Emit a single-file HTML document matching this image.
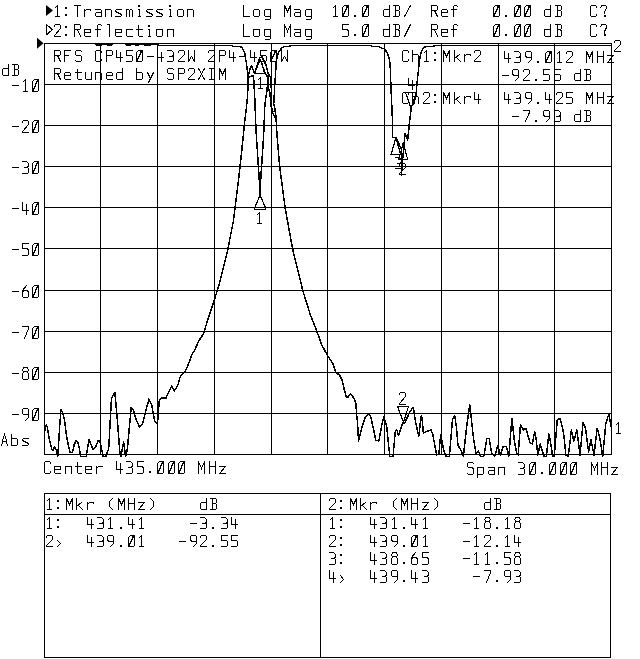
<!DOCTYPE html><html><head><meta charset="utf-8"><style>html,body{margin:0;padding:0;background:#fff;overflow:hidden}svg{display:block}text{font-family:"Liberation Mono";font-size:17.17px;white-space:pre;fill:#000}</style></head><body>
<svg width="640" height="659" viewBox="0 0 640 659">
<rect width="640" height="659" fill="#fff"/>
<g stroke="#000" stroke-width="1" shape-rendering="crispEdges">
<line x1="44.5" y1="43" x2="44.5" y2="455"/>
<line x1="100.5" y1="43" x2="100.5" y2="455"/>
<line x1="157.5" y1="43" x2="157.5" y2="455"/>
<line x1="214.5" y1="43" x2="214.5" y2="455"/>
<line x1="271.5" y1="43" x2="271.5" y2="455"/>
<line x1="327.5" y1="43" x2="327.5" y2="455"/>
<line x1="384.5" y1="43" x2="384.5" y2="455"/>
<line x1="441.5" y1="43" x2="441.5" y2="455"/>
<line x1="498.5" y1="43" x2="498.5" y2="455"/>
<line x1="554.5" y1="43" x2="554.5" y2="455"/>
<line x1="611.5" y1="43" x2="611.5" y2="455"/>
<line x1="44" y1="43.5" x2="612" y2="43.5"/>
<line x1="44" y1="84.5" x2="612" y2="84.5"/>
<line x1="44" y1="125.5" x2="612" y2="125.5"/>
<line x1="44" y1="166.5" x2="612" y2="166.5"/>
<line x1="44" y1="207.5" x2="612" y2="207.5"/>
<line x1="44" y1="248.5" x2="612" y2="248.5"/>
<line x1="44" y1="290.5" x2="612" y2="290.5"/>
<line x1="44" y1="331.5" x2="612" y2="331.5"/>
<line x1="44" y1="372.5" x2="612" y2="372.5"/>
<line x1="44" y1="413.5" x2="612" y2="413.5"/>
<line x1="44" y1="454.5" x2="612" y2="454.5"/>
<rect x="44.5" y="493.5" width="566" height="164" fill="none"/>
<line x1="44" y1="514.5" x2="611" y2="514.5"/>
<line x1="320.5" y1="493" x2="320.5" y2="658"/>
</g>
<g fill="none" stroke="#000" stroke-width="1.5" stroke-linejoin="round" stroke-linecap="round" shape-rendering="crispEdges">
<polyline points="44.6,431.0 46.4,424.6 47.3,427.3 49.1,438.3 51.9,449.2 53.2,450.1 54.6,446.5 56.0,449.2 57.8,456.3 59.6,427.3 61.0,409.6 62.3,411.9 64.2,418.2 66.4,434.6 68.3,445.6 70.1,452.4 72.4,452.4 74.2,444.7 76.0,440.6 77.8,442.0 79.2,447.4 80.6,456.3 86.2,456.3 89.0,439.4 90.9,444.0 92.8,449.7 95.6,446.9 98.4,440.3 100.2,442.2 103.1,456.3 105.9,456.3 108.7,448.8 111.5,398.1 114.9,392.5 117.1,416.9 119.9,452.5 120.9,456.3 123.7,442.2 125.6,456.3 127.4,448.8 131.2,407.5 133.1,409.4 135.9,418.8 139.6,427.2 142.4,424.4 145.2,413.1 149.0,399.1 151.8,405.6 154.6,420.6 157.4,424.4 159.3,400.0 161.2,398.1 165.8,398.3 168.2,393.4 171.8,386.2 174.3,391.0 177.9,385.0 180.3,376.5 185.2,371.6 188.8,363.1 192.5,353.4 194.9,349.8 198.5,341.3 203.4,334.0 208.3,318.2 211.9,307.3 214.3,300.0 219.1,284.7 227.1,252.9 233.4,221.0 238.2,182.8 241.4,154.1 244.6,122.3 246.2,110.0 247.3,99.0 248.2,84.0 248.3,77.5"/>
<line x1="95" y1="44.5" x2="113" y2="44.5" stroke-width="1"/>
<line x1="125" y1="44.5" x2="159" y2="44.5" stroke-width="1"/>
<line x1="96" y1="45.5" x2="102" y2="45.5" stroke-width="1"/>
<line x1="107" y1="45.5" x2="112" y2="45.5" stroke-width="1"/>
<line x1="126" y1="45.5" x2="131" y2="45.5" stroke-width="1"/>
<line x1="135" y1="45.5" x2="139" y2="45.5" stroke-width="1"/>
<line x1="144" y1="45.5" x2="151" y2="45.5" stroke-width="1"/>
<polyline points="159.0,45.5 232.0,45.5 232.5,46.5 240.3,46.5 241.7,47.5 243.1,49.4 244.0,51.7 245.0,54.0 245.4,56.4 245.7,60.0 246.4,62.0 247.2,70.0 248.0,75.3 248.3,77.5"/>
<polyline points="248.2,84.0 248.2,76.0 250.4,67.8 251.5,65.3 253.3,70.4 254.4,73.3 257.0,65.5 259.8,57.6 262.0,56.9 266.0,65.0 268.3,74.0 267.6,83.9 266.8,91.5 265.7,98.3 264.6,108.1 264.2,122.6 263.7,134.0 260.4,185.0 260.1,195.0"/>
<polyline points="248.0,75.3 249.0,77.0 251.0,76.5 253.5,75.5 254.0,84.0 254.8,99.0 256.0,130.0 259.6,185.0 260.1,195.0"/>
<polyline points="261.5,62.5 264.2,71.5 267.4,76.8 268.4,88.0 269.9,93.0 271.4,108.0 272.5,113.0 275.5,118.0"/>
<polyline points="269.0,74.5 270.6,77.5 271.2,84.0 271.7,108.0 273.0,112.0"/>
<polyline points="289.8,46.5 284.7,46.5 283.2,47.0 281.4,48.4 280.0,50.3 279.0,51.7 278.1,53.6 277.2,56.0 276.5,60.0 276.0,65.2 275.6,74.0 274.8,84.0 274.4,93.0 273.7,104.3 274.8,108.1 275.9,116.5 276.3,122.6 276.9,134.0 279.6,166.0 285.0,207.0 292.4,248.0 302.7,290.3 310.3,314.5 316.4,330.0 321.8,345.0 327.3,355.2 332.7,363.4 336.2,373.0 339.6,375.0 342.3,380.5 343.7,387.3 346.4,397.5 348.4,396.8 350.5,393.4 353.9,398.2 355.9,403.0 356.6,414.6 357.3,420.0 358.6,441.0 362.5,425.3 365.6,416.7 368.8,413.6 371.0,417.5 375.8,440.2 378.9,441.0 382.0,423.8 384.0,416.7 386.7,426.9 389.8,456.3 393.0,456.3 395.3,431.6 396.9,430.0 398.4,435.5 401.6,426.0 403.0,422.2 404.7,423.0 410.2,411.2 413.3,407.3 415.6,422.2 418.8,436.2 421.1,416.0 421.9,417.5 423.4,433.0 426.6,431.6 431.2,430.0 432.8,434.7 436.7,455.0 439.0,453.4 440.6,434.7 442.2,442.5 443.8,450.3 446.2,456.3 449.4,456.3 452.5,419.0 454.8,416.0 456.4,426.9 458.0,445.6 460.3,448.8 463.4,456.3 466.6,426.9 469.7,405.0 471.2,417.5 473.6,439.4 476.0,453.4 478.3,451.0 480.6,456.3 483.8,456.3 486.9,438.6 489.2,438.6 491.6,453.4 494.7,456.3 497.8,445.6 500.2,455.0 503.3,446.4 506.4,446.4 508.8,456.3 511.9,418.3 514.2,439.4 516.6,453.4 518.1,455.0 520.5,424.5 523.6,430.0 525.9,428.4 530.0,442.5 532.3,444.0 534.7,431.6 536.2,439.4 537.8,455.0 540.2,444.0 541.7,448.8 544.0,456.3 546.4,456.3 548.8,434.0 550.3,441.0 552.7,456.3 554.2,456.3 557.3,419.8 559.7,418.3 561.2,422.2 563.6,433.1 565.9,455.0 568.3,456.3 571.4,430.0 573.8,441.0 576.9,430.0 580.0,455.0 583.1,422.2 585.5,428.4 588.6,451.9 590.9,439.4 594.0,455.0 597.2,428.4 599.5,436.2 602.7,456.3 605.8,423.8 608.9,413.6 611.2,426.9"/>
<polyline points="289.8,46.5 290.2,45.5 371.3,45.5 371.5,46.5 379.5,46.5 379.7,47.5 381.1,47.5 381.3,48.5 383.9,48.5 385.0,49.3 386.0,51.0 387.2,52.6 388.2,55.3 389.3,59.1 389.9,63.0 390.4,70.0 390.8,83.8 391.3,94.7 392.3,117.3 392.5,137.5 395.7,137.5 398.5,143.0 401.7,150.0 401.3,175.0 403.5,150.0 405.0,133.4 407.6,140.0 408.8,130.0 409.2,125.0 411.4,106.4 413.8,103.5 416.0,94.7 417.0,83.8 418.1,72.8 418.5,70.0 419.0,64.0 419.6,60.8 420.1,56.4 420.9,53.1 422.0,50.4 423.1,48.7 424.8,47.1 426.4,46.5 434.0,46.5 434.2,45.5 611.0,45.5"/>
</g>
<g fill="none" stroke="#000" stroke-width="1.2" stroke-linejoin="miter" shape-rendering="crispEdges">
<polygon points="260.1,59.3 254.6,73.7 265.6,73.7"/>
<polygon points="260.1,195.3 254.8,207.5 265.4,207.5"/>
<rect x="254.5" y="207.5" width="11" height="2"/>
<polygon points="395.9,137.5 391.1,154.5 400.6,154.5"/>
<polygon points="403.2,143.0 398.7,159.5 407.7,159.5"/>
<polygon points="405.5,92.5 416.5,92.5 411,108"/>
<polygon points="397.5,406.5 408.5,406.5 403.5,422"/>
<polygon points="46.5,29.7 46.5,24.7 52.5,29.7 46.5,34.7" />
</g>
<polygon points="46,5 53,10.5 46,16" fill="#000"/>
<polygon points="37,37.8 43.5,43.3 37,48.8" fill="#000"/>
<path d="M55.5 7.5L57.5 5.5L57.5 16.5M55.5 16.5L59.5 16.5M74.5 5.5L80.5 5.5M77.5 5.5L77.5 16.5M84.5 9.5L84.5 16.5M84.5 11.5L86.5 9.5L90.5 9.5L90.5 10.5M95.5 9.5L100.5 9.5L101.5 10.5L101.5 16.5M101.5 12.5L96.5 12.5L95.5 13.5L95.5 15.5L96.5 16.5L101.5 16.5M105.5 16.5L105.5 9.5M105.5 9.5L110.5 9.5L111.5 10.5L111.5 16.5M121.5 9.5L116.5 9.5L115.5 10.5L115.5 11.5L121.5 14.5L121.5 15.5L120.5 16.5L115.5 16.5M126.5 16.5L126.5 9.5L128.5 9.5L129.5 10.5L129.5 16.5M129.5 10.5L130.5 9.5L131.5 9.5L132.5 10.5L132.5 16.5M138.5 9.5L139.5 9.5L139.5 16.5M138.5 16.5L140.5 16.5M152.5 9.5L147.5 9.5L146.5 10.5L146.5 11.5L152.5 14.5L152.5 15.5L151.5 16.5L146.5 16.5M162.5 9.5L157.5 9.5L156.5 10.5L156.5 11.5L162.5 14.5L162.5 15.5L161.5 16.5L156.5 16.5M169.5 9.5L170.5 9.5L170.5 16.5M169.5 16.5L171.5 16.5M178.5 9.5L182.5 9.5L183.5 10.5L183.5 15.5L182.5 16.5L178.5 16.5L177.5 15.5L177.5 10.5L178.5 9.5M187.5 16.5L187.5 9.5M187.5 9.5L192.5 9.5L193.5 10.5L193.5 16.5M243.5 5.5L243.5 16.5L249.5 16.5M254.5 9.5L258.5 9.5L259.5 10.5L259.5 15.5L258.5 16.5L254.5 16.5L253.5 15.5L253.5 10.5L254.5 9.5M270.5 9.5L270.5 18.5L269.5 19.5L265.5 19.5M270.5 9.5L265.5 9.5L264.5 10.5L264.5 15.5L265.5 16.5L270.5 16.5M284.5 16.5L284.5 5.5L287.5 11.5L290.5 5.5L290.5 16.5M294.5 9.5L299.5 9.5L300.5 10.5L300.5 16.5M300.5 12.5L295.5 12.5L294.5 13.5L294.5 15.5L295.5 16.5L300.5 16.5M311.5 9.5L311.5 18.5L310.5 19.5L306.5 19.5M311.5 9.5L306.5 9.5L305.5 10.5L305.5 15.5L306.5 16.5L311.5 16.5M431.5 16.5L431.5 5.5L436.5 5.5L437.5 6.5L437.5 9.5L436.5 10.5L431.5 10.5M434.5 10.5L437.5 16.5M441.5 12.5L447.5 12.5L447.5 10.5L446.5 9.5L442.5 9.5L441.5 10.5L441.5 15.5L442.5 16.5L447.5 16.5M457.5 6.5L456.5 5.5L454.5 5.5L453.5 6.5L453.5 16.5M451.5 9.5L456.5 9.5M495.5 5.5L499.5 5.5L499.5 15.5L498.5 16.5L493.5 16.5L493.5 7.5L495.5 5.5M494.5 15.5L498.5 6.5M494.5 14.5L498.5 5.5M516.5 5.5L520.5 5.5L520.5 15.5L519.5 16.5L514.5 16.5L514.5 7.5L516.5 5.5M515.5 15.5L519.5 6.5M515.5 14.5L519.5 5.5M526.5 5.5L530.5 5.5L530.5 15.5L529.5 16.5L524.5 16.5L524.5 7.5L526.5 5.5M525.5 15.5L529.5 6.5M525.5 14.5L529.5 5.5M550.5 5.5L550.5 16.5L545.5 16.5L544.5 15.5L544.5 10.5L545.5 9.5L550.5 9.5M555.5 5.5L560.5 5.5L561.5 6.5L561.5 9.5L560.5 10.5L557.5 10.5M560.5 10.5L561.5 11.5L561.5 15.5L560.5 16.5L555.5 16.5M557.5 5.5L557.5 16.5M596.5 7.5L596.5 6.5L595.5 5.5L591.5 5.5L590.5 6.5L590.5 15.5L591.5 16.5L595.5 16.5L596.5 15.5L596.5 14.5M600.5 7.5L602 5.5L605.5 5.5L606.5 6.5L606.5 8.5L604.5 11.5L604.5 13.5M54.5 26.5L54.5 25.5L55.5 24.5L59.5 24.5L60.5 25.5L60.5 28.5L54.5 35.5L54.5 36.5L60.5 36.5M74.5 36.5L74.5 24.5L79.5 24.5L80.5 25.5L80.5 28.5L79.5 29.5L74.5 29.5M77.5 29.5L80.5 36.5M84.5 32.5L90.5 32.5L90.5 29.5L89.5 29.5L85.5 29.5L84.5 29.5L84.5 35.5L85.5 36.5L90.5 36.5M101.5 25.5L100.5 24.5L98.5 24.5L97.5 25.5L97.5 36.5M95.5 29.5L100.5 29.5M107.5 24.5L109.5 24.5L109.5 36.5M115.5 32.5L121.5 32.5L121.5 29.5L120.5 29.5L116.5 29.5L115.5 29.5L115.5 35.5L116.5 36.5L121.5 36.5M132.5 29.5L127.5 29.5L126.5 29.5L126.5 35.5L127.5 36.5L132.5 36.5M138.5 25.5L138.5 35.5L139.5 36.5L142.5 36.5M136.5 29.5L142.5 29.5M148.5 29.5L149.5 29.5L149.5 36.5M148.5 36.5L150.5 36.5M157.5 29.5L161.5 29.5L162.5 29.5L162.5 35.5L161.5 36.5L157.5 36.5L156.5 35.5L156.5 29.5L157.5 29.5M167.5 36.5L167.5 29.5M167.5 29.5L172.5 29.5L173.5 29.5L173.5 36.5M243.5 24.5L243.5 36.5L249.5 36.5M254.5 29.5L258.5 29.5L259.5 29.5L259.5 35.5L258.5 36.5L254.5 36.5L253.5 35.5L253.5 29.5L254.5 29.5M270.5 29.5L270.5 38.5L269.5 39.5L265.5 39.5M270.5 29.5L265.5 29.5L264.5 29.5L264.5 35.5L265.5 36.5L270.5 36.5M284.5 36.5L284.5 24.5L287.5 31.5L290.5 24.5L290.5 36.5M294.5 29.5L299.5 29.5L300.5 29.5L300.5 36.5M300.5 32.5L295.5 32.5L294.5 33.5L294.5 35.5L295.5 36.5L300.5 36.5M311.5 29.5L311.5 38.5L310.5 39.5L306.5 39.5M311.5 29.5L306.5 29.5L305.5 29.5L305.5 35.5L306.5 36.5L311.5 36.5M431.5 36.5L431.5 24.5L436.5 24.5L437.5 25.5L437.5 28.5L436.5 29.5L431.5 29.5M434.5 29.5L437.5 36.5M441.5 32.5L447.5 32.5L447.5 29.5L446.5 29.5L442.5 29.5L441.5 29.5L441.5 35.5L442.5 36.5L447.5 36.5M457.5 25.5L456.5 24.5L454.5 24.5L453.5 25.5L453.5 36.5M451.5 29.5L456.5 29.5M495.5 24.5L499.5 24.5L499.5 35.5L498.5 36.5L493.5 36.5L493.5 26.5L495.5 24.5M494.5 35.5L498.5 25.5M494.5 34.5L498.5 24.5M516.5 24.5L520.5 24.5L520.5 35.5L519.5 36.5L514.5 36.5L514.5 26.5L516.5 24.5M515.5 35.5L519.5 25.5M515.5 34.5L519.5 24.5M526.5 24.5L530.5 24.5L530.5 35.5L529.5 36.5L524.5 36.5L524.5 26.5L526.5 24.5M525.5 35.5L529.5 25.5M525.5 34.5L529.5 24.5M550.5 24.5L550.5 36.5L545.5 36.5L544.5 35.5L544.5 29.5L545.5 29.5L550.5 29.5M555.5 24.5L560.5 24.5L561.5 25.5L561.5 28.5L560.5 29.5L557.5 29.5M560.5 29.5L561.5 31.5L561.5 35.5L560.5 36.5L555.5 36.5M557.5 24.5L557.5 36.5M596.5 26.5L596.5 25.5L595.5 24.5L591.5 24.5L590.5 25.5L590.5 35.5L591.5 36.5L595.5 36.5L596.5 35.5L596.5 34.5M600.5 26.5L602 24.5L605.5 24.5L606.5 25.5L606.5 27.5L604.5 31.5L604.5 33.5M333.5 7.5L335.5 5.5L335.5 16.5M333.5 16.5L337.5 16.5M344.5 5.5L348.5 5.5L348.5 15.5L347.5 16.5L342.5 16.5L342.5 7.5L344.5 5.5M343.5 15.5L347.5 6.5M343.5 14.5L347.5 5.5M364.5 5.5L368.5 5.5L368.5 15.5L367.5 16.5L362.5 16.5L362.5 7.5L364.5 5.5M363.5 15.5L367.5 6.5M363.5 14.5L367.5 5.5M389.5 5.5L389.5 16.5L384.5 16.5L383.5 15.5L383.5 10.5L384.5 9.5L389.5 9.5M393.5 5.5L398.5 5.5L399.5 6.5L399.5 9.5L398.5 10.5L395.5 10.5M398.5 10.5L399.5 11.5L399.5 15.5L398.5 16.5L393.5 16.5M395.5 5.5L395.5 16.5M404.5 16.5L410.5 5.5M348.5 24.5L342.5 24.5L342.5 29.5L347.5 29.5L348.5 31.5L348.5 35.5L347.5 36.5L342.5 36.5M364.5 24.5L368.5 24.5L368.5 35.5L367.5 36.5L362.5 36.5L362.5 26.5L364.5 24.5M363.5 35.5L367.5 25.5M363.5 34.5L367.5 24.5M389.5 24.5L389.5 36.5L384.5 36.5L383.5 35.5L383.5 29.5L384.5 29.5L389.5 29.5M393.5 24.5L398.5 24.5L399.5 25.5L399.5 28.5L398.5 29.5L395.5 29.5M398.5 29.5L399.5 31.5L399.5 35.5L398.5 36.5L393.5 36.5M395.5 24.5L395.5 36.5M404.5 36.5L410.5 24.5M54.5 61.5L54.5 50.5L59.5 50.5L60.5 51.5L60.5 54.5L59.5 55.5L54.5 55.5M57.5 55.5L60.5 61.5M70.5 50.5L64.5 50.5L64.5 61.5M64.5 55.5L68.5 55.5M81.5 51.5L80.5 50.5L76.5 50.5L75.5 51.5L75.5 54.5L76.5 55.5L80.5 55.5L81.5 56.5L81.5 60.5L80.5 61.5L76.5 61.5L75.5 60.5M101.5 52.5L101.5 51.5L100.5 50.5L96.5 50.5L95.5 51.5L95.5 60.5L96.5 61.5L100.5 61.5L101.5 60.5L101.5 59.5M106.5 61.5L106.5 50.5L111.5 50.5L112.5 51.5L112.5 54.5L111.5 55.5L106.5 55.5M116.5 50.5L116.5 57.5L122.5 57.5M120.5 52.5L120.5 61.5M132.5 50.5L126.5 50.5L126.5 55.5L131.5 55.5L132.5 56.5L132.5 60.5L131.5 61.5L126.5 61.5M138.5 50.5L142.5 50.5L142.5 60.5L141.5 61.5L136.5 61.5L136.5 52.5L138.5 50.5M137.5 60.5L141.5 51.5M137.5 59.5L141.5 50.5M147.5 56.5L153.5 56.5M157.5 50.5L157.5 57.5L163.5 57.5M161.5 52.5L161.5 61.5M167.5 50.5L171.5 50.5L173.5 52.5L173.5 54.5L172.5 56.5L169.5 56.5M172.5 56.5L173.5 56.5L173.5 60.5L172.5 61.5L167.5 61.5M178.5 52.5L178.5 51.5L179.5 50.5L183.5 50.5L184.5 51.5L184.5 54.5L178.5 60.5L178.5 61.5L184.5 61.5M188.5 50.5L188.5 61.5L191.5 56.5L194.5 61.5L194.5 50.5M208.5 52.5L208.5 51.5L209.5 50.5L213.5 50.5L214.5 51.5L214.5 54.5L208.5 60.5L208.5 61.5L214.5 61.5M219.5 61.5L219.5 50.5L224.5 50.5L225.5 51.5L225.5 54.5L224.5 55.5L219.5 55.5M229.5 50.5L229.5 57.5L235.5 57.5M233.5 52.5L233.5 61.5M239.5 56.5L245.5 56.5M250.5 50.5L250.5 57.5L256.5 57.5M254.5 52.5L254.5 61.5M266.5 50.5L260.5 50.5L260.5 55.5L265.5 55.5L266.5 56.5L266.5 60.5L265.5 61.5L260.5 61.5M272.5 50.5L276.5 50.5L276.5 60.5L275.5 61.5L270.5 61.5L270.5 52.5L272.5 50.5M271.5 60.5L275.5 51.5M271.5 59.5L275.5 50.5M281.5 50.5L281.5 61.5L284.5 56.5L287.5 61.5L287.5 50.5M54.5 79.5L54.5 68.5L59.5 68.5L60.5 69.5L60.5 72.5L59.5 73.5L54.5 73.5M57.5 73.5L60.5 79.5M64.5 75.5L70.5 75.5L70.5 73.5L69.5 72.5L65.5 72.5L64.5 73.5L64.5 78.5L65.5 79.5L70.5 79.5M77.5 69.5L77.5 78.5L78.5 79.5L81.5 79.5M75.5 72.5L81.5 72.5M85.5 72.5L85.5 78.5L86.5 79.5L91.5 79.5L91.5 72.5M95.5 79.5L95.5 72.5M95.5 72.5L100.5 72.5L101.5 73.5L101.5 79.5M106.5 75.5L112.5 75.5L112.5 73.5L111.5 72.5L107.5 72.5L106.5 73.5L106.5 78.5L107.5 79.5L112.5 79.5M122.5 68.5L122.5 79.5L117.5 79.5L116.5 78.5L116.5 73.5L117.5 72.5L122.5 72.5M136.5 68.5L136.5 79.5L141.5 79.5L142.5 78.5L142.5 73.5L141.5 72.5L136.5 72.5M147.5 72.5L150.5 78.5L153.5 72.5M150.5 78.5L148.5 82.5M173.5 69.5L172.5 68.5L168.5 68.5L167.5 69.5L167.5 72.5L168.5 73.5L172.5 73.5L173.5 74.5L173.5 78.5L172.5 79.5L168.5 79.5L167.5 78.5M178.5 79.5L178.5 68.5L183.5 68.5L184.5 69.5L184.5 72.5L183.5 73.5L178.5 73.5M188.5 70.5L188.5 69.5L189.5 68.5L193.5 68.5L194.5 69.5L194.5 72.5L188.5 78.5L188.5 79.5L194.5 79.5M198.5 68.5L204.5 79.5M204.5 68.5L198.5 79.5M209.5 68.5L213.5 68.5M211.5 68.5L211.5 79.5M209.5 79.5L213.5 79.5M219.5 79.5L219.5 68.5L222.5 74.5L225.5 68.5L225.5 79.5M408.5 52.5L408.5 51.5L407.5 50.5L403.5 50.5L402.5 51.5L402.5 60.5L403.5 61.5L407.5 61.5L408.5 60.5L408.5 59.5M412.5 50.5L412.5 61.5M412.5 54.5L417.5 54.5L418.5 55.5L418.5 61.5M424.5 52.5L426.5 50.5L426.5 61.5M424.5 61.5L428.5 61.5M443.5 61.5L443.5 50.5L446.5 56.5L449.5 50.5L449.5 61.5M454.5 50.5L454.5 61.5M459.5 54.5L454.5 58.5M456.5 57.5L460.5 61.5M464.5 54.5L464.5 61.5M464.5 56.5L466.5 54.5L470.5 54.5L470.5 55.5M474.5 52.5L474.5 51.5L475.5 50.5L479.5 50.5L480.5 51.5L480.5 54.5L474.5 60.5L474.5 61.5L480.5 61.5M504.5 51.5L504.5 58.5L510.5 58.5M508.5 53.5L508.5 62.5M514.5 51.5L518.5 51.5L520.5 53.5L520.5 55.5L519.5 57.5L516.5 57.5M519.5 57.5L520.5 57.5L520.5 61.5L519.5 62.5L514.5 62.5M531.5 57.5L526.5 57.5L525.5 55.5L525.5 52.5L526.5 51.5L530.5 51.5L531.5 52.5L531.5 59.5L528.5 62.5M547.5 51.5L551.5 51.5L551.5 61.5L550.5 62.5L545.5 62.5L545.5 53.5L547.5 51.5M546.5 61.5L550.5 52.5M546.5 60.5L550.5 51.5M557.5 53.5L559.5 51.5L559.5 62.5M557.5 62.5L561.5 62.5M566.5 53.5L566.5 52.5L567.5 51.5L571.5 51.5L572.5 52.5L572.5 55.5L566.5 61.5L566.5 62.5L572.5 62.5M586.5 62.5L586.5 51.5L589.5 57.5L592.5 51.5L592.5 62.5M597.5 51.5L597.5 62.5M603.5 51.5L603.5 62.5M597.5 56.5L603.5 56.5M607.5 55.5L613.5 55.5L607.5 62.5L613.5 62.5M502.5 75.5L508.5 75.5M518.5 75.5L513.5 75.5L512.5 73.5L512.5 70.5L513.5 69.5L517.5 69.5L518.5 70.5L518.5 77.5L515.5 80.5M523.5 71.5L523.5 70.5L524.5 69.5L528.5 69.5L529.5 70.5L529.5 73.5L523.5 79.5L523.5 80.5L529.5 80.5M549.5 69.5L543.5 69.5L543.5 74.5L548.5 74.5L549.5 75.5L549.5 79.5L548.5 80.5L543.5 80.5M560.5 69.5L554.5 69.5L554.5 74.5L559.5 74.5L560.5 75.5L560.5 79.5L559.5 80.5L554.5 80.5M580.5 69.5L580.5 80.5L575.5 80.5L574.5 79.5L574.5 74.5L575.5 73.5L580.5 73.5M584.5 69.5L589.5 69.5L590.5 70.5L590.5 73.5L589.5 74.5L586.5 74.5M589.5 74.5L590.5 75.5L590.5 79.5L589.5 80.5L584.5 80.5M586.5 69.5L586.5 80.5M408.5 94.5L408.5 93.5L407.5 92.5L403.5 92.5L402.5 93.5L402.5 102.5L403.5 103.5L407.5 103.5L408.5 102.5L408.5 101.5M412.5 92.5L412.5 103.5M412.5 96.5L417.5 96.5L418.5 97.5L418.5 103.5M423.5 94.5L423.5 93.5L424.5 92.5L428.5 92.5L429.5 93.5L429.5 96.5L423.5 102.5L423.5 103.5L429.5 103.5M443.5 103.5L443.5 92.5L446.5 98.5L449.5 92.5L449.5 103.5M454.5 92.5L454.5 103.5M459.5 96.5L454.5 100.5M456.5 99.5L460.5 103.5M464.5 96.5L464.5 103.5M464.5 98.5L466.5 96.5L470.5 96.5L470.5 97.5M474.5 92.5L474.5 99.5L480.5 99.5M478.5 94.5L478.5 103.5M504.5 92.5L504.5 99.5L510.5 99.5M508.5 94.5L508.5 103.5M514.5 92.5L518.5 92.5L520.5 94.5L520.5 96.5L519.5 98.5L516.5 98.5M519.5 98.5L520.5 98.5L520.5 102.5L519.5 103.5L514.5 103.5M531.5 98.5L526.5 98.5L525.5 96.5L525.5 93.5L526.5 92.5L530.5 92.5L531.5 93.5L531.5 100.5L528.5 103.5M545.5 92.5L545.5 99.5L551.5 99.5M549.5 94.5L549.5 103.5M556.5 94.5L556.5 93.5L557.5 92.5L561.5 92.5L562.5 93.5L562.5 96.5L556.5 102.5L556.5 103.5L562.5 103.5M572.5 92.5L566.5 92.5L566.5 97.5L571.5 97.5L572.5 98.5L572.5 102.5L571.5 103.5L566.5 103.5M586.5 103.5L586.5 92.5L589.5 98.5L592.5 92.5L592.5 103.5M597.5 92.5L597.5 103.5M603.5 92.5L603.5 103.5M597.5 97.5L603.5 97.5M607.5 96.5L613.5 96.5L607.5 103.5L613.5 103.5M512.5 116.5L518.5 116.5M523.5 110.5L529.5 110.5L529.5 112.5L525.5 121.5M549.5 116.5L544.5 116.5L543.5 114.5L543.5 111.5L544.5 110.5L548.5 110.5L549.5 111.5L549.5 118.5L546.5 121.5M554.5 110.5L558.5 110.5L560.5 112.5L560.5 114.5L559.5 116.5L556.5 116.5M559.5 116.5L560.5 116.5L560.5 120.5L559.5 121.5L554.5 121.5M580.5 110.5L580.5 121.5L575.5 121.5L574.5 120.5L574.5 115.5L575.5 114.5L580.5 114.5M584.5 110.5L589.5 110.5L590.5 111.5L590.5 114.5L589.5 115.5L586.5 115.5M589.5 115.5L590.5 116.5L590.5 120.5L589.5 121.5L584.5 121.5M586.5 110.5L586.5 121.5M8.5 64.5L8.5 75.5L3.5 75.5L2.5 74.5L2.5 69.5L3.5 68.5L8.5 68.5M12.5 64.5L17.5 64.5L18.5 65.5L18.5 68.5L17.5 69.5L14.5 69.5M17.5 69.5L18.5 70.5L18.5 74.5L17.5 75.5L12.5 75.5M14.5 64.5L14.5 75.5M12.5 85.5L18.5 85.5M23.5 81.5L25.5 79.5L25.5 91.5M23.5 91.5L27.5 91.5M34.5 79.5L38.5 79.5L38.5 90.5L37.5 91.5L32.5 91.5L32.5 81.5L34.5 79.5M33.5 90.5L37.5 80.5M33.5 89.5L37.5 79.5M12.5 126.5L18.5 126.5M22.5 122.5L22.5 121.5L23.5 120.5L27.5 120.5L28.5 121.5L28.5 124.5L22.5 131.5L22.5 132.5L28.5 132.5M34.5 120.5L38.5 120.5L38.5 131.5L37.5 132.5L32.5 132.5L32.5 122.5L34.5 120.5M33.5 131.5L37.5 121.5M33.5 130.5L37.5 120.5M12.5 167.5L18.5 167.5M22.5 161.5L26.5 161.5L28.5 163.5L28.5 165.5L27.5 167.5L24.5 167.5M27.5 167.5L28.5 168.5L28.5 172.5L27.5 173.5L22.5 173.5M34.5 161.5L38.5 161.5L38.5 172.5L37.5 173.5L32.5 173.5L32.5 163.5L34.5 161.5M33.5 172.5L37.5 162.5M33.5 171.5L37.5 161.5M12.5 208.5L18.5 208.5M22.5 202.5L22.5 210.5L28.5 210.5M26.5 204.5L26.5 214.5M34.5 202.5L38.5 202.5L38.5 213.5L37.5 214.5L32.5 214.5L32.5 204.5L34.5 202.5M33.5 213.5L37.5 203.5M33.5 212.5L37.5 202.5M12.5 249.5L18.5 249.5M28.5 243.5L22.5 243.5L22.5 248.5L27.5 248.5L28.5 250.5L28.5 254.5L27.5 255.5L22.5 255.5M34.5 243.5L38.5 243.5L38.5 254.5L37.5 255.5L32.5 255.5L32.5 245.5L34.5 243.5M33.5 254.5L37.5 244.5M33.5 253.5L37.5 243.5M12.5 291.5L18.5 291.5M26.5 285.5L22.5 290.5L22.5 296.5L23.5 297.5L27.5 297.5L28.5 296.5L28.5 292.5L27.5 290.5L23.5 290.5L22.5 292.5M34.5 285.5L38.5 285.5L38.5 296.5L37.5 297.5L32.5 297.5L32.5 287.5L34.5 285.5M33.5 296.5L37.5 286.5M33.5 295.5L37.5 285.5M12.5 332.5L18.5 332.5M22.5 326.5L28.5 326.5L28.5 328.5L24.5 338.5M34.5 326.5L38.5 326.5L38.5 337.5L37.5 338.5L32.5 338.5L32.5 328.5L34.5 326.5M33.5 337.5L37.5 327.5M33.5 336.5L37.5 326.5M12.5 373.5L18.5 373.5M24 367.5L27 367.5L28.5 369.5L28.5 370.5L27 371.5L24 371.5L22.5 370.5L22.5 369.5L24 367.5M24 371.5L22.5 373.5L22.5 378.5L23.5 379.5L27.5 379.5L28.5 378.5L28.5 373.5L27 371.5M34.5 367.5L38.5 367.5L38.5 378.5L37.5 379.5L32.5 379.5L32.5 369.5L34.5 367.5M33.5 378.5L37.5 368.5M33.5 377.5L37.5 367.5M12.5 414.5L18.5 414.5M28.5 414.5L23.5 414.5L22.5 413.5L22.5 409.5L23.5 408.5L27.5 408.5L28.5 409.5L28.5 417.5L25.5 420.5M34.5 408.5L38.5 408.5L38.5 419.5L37.5 420.5L32.5 420.5L32.5 410.5L34.5 408.5M33.5 419.5L37.5 409.5M33.5 418.5L37.5 408.5M1.5 445.5L2.5 442.5L2.5 440.5L4.5 434.5L6.5 440.5L6.5 442.5L7.5 445.5M2.5 441.5L6.5 441.5M11.5 434.5L11.5 445.5L16.5 445.5L17.5 444.5L17.5 439.5L16.5 438.5L11.5 438.5M28.5 438.5L23.5 438.5L22.5 439.5L22.5 440.5L28.5 443.5L28.5 444.5L27.5 445.5L22.5 445.5M50.5 463.5L50.5 462.5L49.5 461.5L45.5 461.5L44.5 462.5L44.5 472.5L45.5 473.5L49.5 473.5L50.5 472.5L50.5 471.5M54.5 469.5L60.5 469.5L60.5 466.5L59.5 466.5L55.5 466.5L54.5 466.5L54.5 472.5L55.5 473.5L60.5 473.5M65.5 473.5L65.5 466.5M65.5 466.5L70.5 466.5L71.5 466.5L71.5 473.5M77.5 462.5L77.5 472.5L78.5 473.5L81.5 473.5M75.5 466.5L81.5 466.5M85.5 469.5L91.5 469.5L91.5 466.5L90.5 466.5L86.5 466.5L85.5 466.5L85.5 472.5L86.5 473.5L91.5 473.5M96.5 466.5L96.5 473.5M96.5 468.5L98.5 466.5L102.5 466.5L102.5 466.5M116.5 461.5L116.5 469.5L122.5 469.5M120.5 463.5L120.5 473.5M126.5 461.5L130.5 461.5L132.5 463.5L132.5 465.5L131.5 467.5L128.5 467.5M131.5 467.5L132.5 468.5L132.5 472.5L131.5 473.5L126.5 473.5M143.5 461.5L137.5 461.5L137.5 466.5L142.5 466.5L143.5 468.5L143.5 472.5L142.5 473.5L137.5 473.5M159.5 461.5L163.5 461.5L163.5 472.5L162.5 473.5L157.5 473.5L157.5 463.5L159.5 461.5M158.5 472.5L162.5 462.5M158.5 471.5L162.5 461.5M170.5 461.5L174.5 461.5L174.5 472.5L173.5 473.5L168.5 473.5L168.5 463.5L170.5 461.5M169.5 472.5L173.5 462.5M169.5 471.5L173.5 461.5M180.5 461.5L184.5 461.5L184.5 472.5L183.5 473.5L178.5 473.5L178.5 463.5L180.5 461.5M179.5 472.5L183.5 462.5M179.5 471.5L183.5 461.5M198.5 473.5L198.5 461.5L201.5 468.5L204.5 461.5L204.5 473.5M209.5 461.5L209.5 473.5M215.5 461.5L215.5 473.5M209.5 466.5L215.5 466.5M219.5 466.5L225.5 466.5L219.5 473.5L225.5 473.5M473.5 463.5L472.5 462.5L468.5 462.5L467.5 463.5L467.5 466.5L468.5 467.5L472.5 467.5L473.5 469.5L473.5 473.5L472.5 474.5L468.5 474.5L467.5 473.5M477.5 477.5L477.5 467.5L482.5 467.5L483.5 467.5L483.5 473.5L482.5 474.5L477.5 474.5M488.5 467.5L493.5 467.5L494.5 467.5L494.5 474.5M494.5 470.5L489.5 470.5L488.5 471.5L488.5 473.5L489.5 474.5L494.5 474.5M498.5 474.5L498.5 467.5M498.5 467.5L503.5 467.5L504.5 467.5L504.5 474.5M518.5 462.5L522.5 462.5L524.5 464.5L524.5 466.5L523.5 468.5L520.5 468.5M523.5 468.5L524.5 469.5L524.5 473.5L523.5 474.5L518.5 474.5M531.5 462.5L535.5 462.5L535.5 473.5L534.5 474.5L529.5 474.5L529.5 464.5L531.5 462.5M530.5 473.5L534.5 463.5M530.5 472.5L534.5 462.5M551.5 462.5L555.5 462.5L555.5 473.5L554.5 474.5L549.5 474.5L549.5 464.5L551.5 462.5M550.5 473.5L554.5 463.5M550.5 472.5L554.5 462.5M562.5 462.5L566.5 462.5L566.5 473.5L565.5 474.5L560.5 474.5L560.5 464.5L562.5 462.5M561.5 473.5L565.5 463.5M561.5 472.5L565.5 462.5M572.5 462.5L576.5 462.5L576.5 473.5L575.5 474.5L570.5 474.5L570.5 464.5L572.5 462.5M571.5 473.5L575.5 463.5M571.5 472.5L575.5 462.5M591.5 474.5L591.5 462.5L594.5 469.5L597.5 462.5L597.5 474.5M601.5 462.5L601.5 474.5M607.5 462.5L607.5 474.5M601.5 467.5L607.5 467.5M611.5 467.5L617.5 467.5L611.5 474.5L617.5 474.5M47.5 500.5L49.5 498.5L49.5 509.5M47.5 509.5L51.5 509.5M66.5 509.5L66.5 498.5L69.5 504.5L72.5 498.5L72.5 509.5M76.5 498.5L76.5 509.5M81.5 502.5L76.5 506.5M78.5 505.5L82.5 509.5M87.5 502.5L87.5 509.5M87.5 504.5L89.5 502.5L93.5 502.5L93.5 503.5M112.5 498.5L109.5 501.5L109.5 506.5L112.5 509.5M118.5 509.5L118.5 498.5L121.5 504.5L124.5 498.5L124.5 509.5M128.5 498.5L128.5 509.5M134.5 498.5L134.5 509.5M128.5 503.5L134.5 503.5M138.5 502.5L144.5 502.5L138.5 509.5L144.5 509.5M150.5 498.5L153.5 501.5L153.5 506.5L150.5 509.5M206.5 498.5L206.5 509.5L201.5 509.5L200.5 508.5L200.5 503.5L201.5 502.5L206.5 502.5M210.5 498.5L215.5 498.5L216.5 499.5L216.5 502.5L215.5 503.5L212.5 503.5M215.5 503.5L216.5 504.5L216.5 508.5L215.5 509.5L210.5 509.5M212.5 498.5L212.5 509.5M47.5 519.5L49.5 517.5L49.5 528.5M47.5 528.5L51.5 528.5M87.5 517.5L87.5 524.5L93.5 524.5M91.5 519.5L91.5 528.5M97.5 517.5L101.5 517.5L103.5 519.5L103.5 521.5L102.5 523.5L99.5 523.5M102.5 523.5L103.5 523.5L103.5 527.5L102.5 528.5L97.5 528.5M108.5 519.5L110.5 517.5L110.5 528.5M108.5 528.5L112.5 528.5M128.5 517.5L128.5 524.5L134.5 524.5M132.5 519.5L132.5 528.5M139.5 519.5L141.5 517.5L141.5 528.5M139.5 528.5L143.5 528.5M190.5 523.5L196.5 523.5M200.5 517.5L204.5 517.5L206.5 519.5L206.5 521.5L205.5 523.5L202.5 523.5M205.5 523.5L206.5 523.5L206.5 527.5L205.5 528.5L200.5 528.5M221.5 517.5L225.5 517.5L227.5 519.5L227.5 521.5L226.5 523.5L223.5 523.5M226.5 523.5L227.5 523.5L227.5 527.5L226.5 528.5L221.5 528.5M231.5 517.5L231.5 524.5L237.5 524.5M235.5 519.5L235.5 528.5M46.5 537.5L46.5 536.5L47.5 535.5L51.5 535.5L52.5 536.5L52.5 539.5L46.5 545.5L46.5 546.5L52.5 546.5M57.5 540.5L60.5 543.5L57.5 546.5M87.5 535.5L87.5 542.5L93.5 542.5M91.5 537.5L91.5 546.5M97.5 535.5L101.5 535.5L103.5 537.5L103.5 539.5L102.5 541.5L99.5 541.5M102.5 541.5L103.5 541.5L103.5 545.5L102.5 546.5L97.5 546.5M113.5 541.5L108.5 541.5L107.5 539.5L107.5 536.5L108.5 535.5L112.5 535.5L113.5 536.5L113.5 543.5L110.5 546.5M130.5 535.5L134.5 535.5L134.5 545.5L133.5 546.5L128.5 546.5L128.5 537.5L130.5 535.5M129.5 545.5L133.5 536.5M129.5 544.5L133.5 535.5M139.5 537.5L141.5 535.5L141.5 546.5M139.5 546.5L143.5 546.5M179.5 541.5L185.5 541.5M196.5 541.5L191.5 541.5L190.5 539.5L190.5 536.5L191.5 535.5L195.5 535.5L196.5 536.5L196.5 543.5L193.5 546.5M200.5 537.5L200.5 536.5L201.5 535.5L205.5 535.5L206.5 536.5L206.5 539.5L200.5 545.5L200.5 546.5L206.5 546.5M227.5 535.5L221.5 535.5L221.5 540.5L226.5 540.5L227.5 541.5L227.5 545.5L226.5 546.5L221.5 546.5M237.5 535.5L231.5 535.5L231.5 540.5L236.5 540.5L237.5 541.5L237.5 545.5L236.5 546.5L231.5 546.5M329.5 500.5L329.5 499.5L330.5 498.5L334.5 498.5L335.5 499.5L335.5 502.5L329.5 508.5L329.5 509.5L335.5 509.5M350.5 509.5L350.5 498.5L353.5 504.5L356.5 498.5L356.5 509.5M360.5 498.5L360.5 509.5M365.5 502.5L360.5 506.5M362.5 505.5L366.5 509.5M370.5 502.5L370.5 509.5M370.5 504.5L372.5 502.5L376.5 502.5L376.5 503.5M396.5 498.5L393.5 501.5L393.5 506.5L396.5 509.5M401.5 509.5L401.5 498.5L404.5 504.5L407.5 498.5L407.5 509.5M411.5 498.5L411.5 509.5M417.5 498.5L417.5 509.5M411.5 503.5L417.5 503.5M422.5 502.5L428.5 502.5L422.5 509.5L428.5 509.5M434.5 498.5L437.5 501.5L437.5 506.5L434.5 509.5M490.5 498.5L490.5 509.5L485.5 509.5L484.5 508.5L484.5 503.5L485.5 502.5L490.5 502.5M494.5 498.5L499.5 498.5L500.5 499.5L500.5 502.5L499.5 503.5L496.5 503.5M499.5 503.5L500.5 504.5L500.5 508.5L499.5 509.5L494.5 509.5M496.5 498.5L496.5 509.5M330.5 519.5L332.5 517.5L332.5 528.5M330.5 528.5L334.5 528.5M370.5 517.5L370.5 524.5L376.5 524.5M374.5 519.5L374.5 528.5M380.5 517.5L384.5 517.5L386.5 519.5L386.5 521.5L385.5 523.5L382.5 523.5M385.5 523.5L386.5 523.5L386.5 527.5L385.5 528.5L380.5 528.5M392.5 519.5L394.5 517.5L394.5 528.5M392.5 528.5L396.5 528.5M411.5 517.5L411.5 524.5L417.5 524.5M415.5 519.5L415.5 528.5M423.5 519.5L425.5 517.5L425.5 528.5M423.5 528.5L427.5 528.5M463.5 523.5L469.5 523.5M474.5 519.5L476.5 517.5L476.5 528.5M474.5 528.5L478.5 528.5M486 517.5L489 517.5L490.5 519.5L490.5 519.5L489 521.5L486 521.5L484.5 519.5L484.5 519.5L486 517.5M486 521.5L484.5 523.5L484.5 527.5L485.5 528.5L489.5 528.5L490.5 527.5L490.5 523.5L489 521.5M505.5 519.5L507.5 517.5L507.5 528.5M505.5 528.5L509.5 528.5M516 517.5L519 517.5L520.5 519.5L520.5 519.5L519 521.5L516 521.5L514.5 519.5L514.5 519.5L516 517.5M516 521.5L514.5 523.5L514.5 527.5L515.5 528.5L519.5 528.5L520.5 527.5L520.5 523.5L519 521.5M329.5 537.5L329.5 536.5L330.5 535.5L334.5 535.5L335.5 536.5L335.5 539.5L329.5 545.5L329.5 546.5L335.5 546.5M370.5 535.5L370.5 542.5L376.5 542.5M374.5 537.5L374.5 546.5M380.5 535.5L384.5 535.5L386.5 537.5L386.5 539.5L385.5 541.5L382.5 541.5M385.5 541.5L386.5 541.5L386.5 545.5L385.5 546.5L380.5 546.5M397.5 541.5L392.5 541.5L391.5 539.5L391.5 536.5L392.5 535.5L396.5 535.5L397.5 536.5L397.5 543.5L394.5 546.5M413.5 535.5L417.5 535.5L417.5 545.5L416.5 546.5L411.5 546.5L411.5 537.5L413.5 535.5M412.5 545.5L416.5 536.5M412.5 544.5L416.5 535.5M423.5 537.5L425.5 535.5L425.5 546.5M423.5 546.5L427.5 546.5M463.5 541.5L469.5 541.5M474.5 537.5L476.5 535.5L476.5 546.5M474.5 546.5L478.5 546.5M484.5 537.5L484.5 536.5L485.5 535.5L489.5 535.5L490.5 536.5L490.5 539.5L484.5 545.5L484.5 546.5L490.5 546.5M505.5 537.5L507.5 535.5L507.5 546.5M505.5 546.5L509.5 546.5M514.5 535.5L514.5 542.5L520.5 542.5M518.5 537.5L518.5 546.5M329.5 552.5L333.5 552.5L335.5 554.5L335.5 556.5L334.5 558.5L331.5 558.5M334.5 558.5L335.5 559.5L335.5 563.5L334.5 564.5L329.5 564.5M370.5 552.5L370.5 560.5L376.5 560.5M374.5 554.5L374.5 564.5M380.5 552.5L384.5 552.5L386.5 554.5L386.5 556.5L385.5 558.5L382.5 558.5M385.5 558.5L386.5 559.5L386.5 563.5L385.5 564.5L380.5 564.5M393 552.5L396 552.5L397.5 554.5L397.5 555.5L396 556.5L393 556.5L391.5 555.5L391.5 554.5L393 552.5M393 556.5L391.5 558.5L391.5 563.5L392.5 564.5L396.5 564.5L397.5 563.5L397.5 558.5L396 556.5M415.5 552.5L411.5 557.5L411.5 563.5L412.5 564.5L416.5 564.5L417.5 563.5L417.5 559.5L416.5 557.5L412.5 557.5L411.5 559.5M428.5 552.5L422.5 552.5L422.5 557.5L427.5 557.5L428.5 559.5L428.5 563.5L427.5 564.5L422.5 564.5M463.5 558.5L469.5 558.5M474.5 554.5L476.5 552.5L476.5 564.5M474.5 564.5L478.5 564.5M485.5 554.5L487.5 552.5L487.5 564.5M485.5 564.5L489.5 564.5M510.5 552.5L504.5 552.5L504.5 557.5L509.5 557.5L510.5 559.5L510.5 563.5L509.5 564.5L504.5 564.5M516 552.5L519 552.5L520.5 554.5L520.5 555.5L519 556.5L516 556.5L514.5 555.5L514.5 554.5L516 552.5M516 556.5L514.5 558.5L514.5 563.5L515.5 564.5L519.5 564.5L520.5 563.5L520.5 558.5L519 556.5M329.5 570.5L329.5 578.5L335.5 578.5M333.5 572.5L333.5 582.5M340.5 575.5L343.5 579.5L340.5 582.5M370.5 570.5L370.5 578.5L376.5 578.5M374.5 572.5L374.5 582.5M380.5 570.5L384.5 570.5L386.5 572.5L386.5 574.5L385.5 576.5L382.5 576.5M385.5 576.5L386.5 577.5L386.5 581.5L385.5 582.5L380.5 582.5M397.5 576.5L392.5 576.5L391.5 575.5L391.5 571.5L392.5 570.5L396.5 570.5L397.5 571.5L397.5 579.5L394.5 582.5M411.5 570.5L411.5 578.5L417.5 578.5M415.5 572.5L415.5 582.5M422.5 570.5L426.5 570.5L428.5 572.5L428.5 574.5L427.5 576.5L424.5 576.5M427.5 576.5L428.5 577.5L428.5 581.5L427.5 582.5L422.5 582.5M473.5 576.5L479.5 576.5M484.5 570.5L490.5 570.5L490.5 572.5L486.5 582.5M510.5 576.5L505.5 576.5L504.5 575.5L504.5 571.5L505.5 570.5L509.5 570.5L510.5 571.5L510.5 579.5L507.5 582.5M514.5 570.5L518.5 570.5L520.5 572.5L520.5 574.5L519.5 576.5L516.5 576.5M519.5 576.5L520.5 577.5L520.5 581.5L519.5 582.5L514.5 582.5M258.5 79.5L260.5 77.5L260.5 88.5M258.5 88.5L262.5 88.5M257.5 214.5L259.5 212.5L259.5 223.5M257.5 223.5L261.5 223.5M395.5 157.5L399.5 157.5L401.5 159.5L401.5 161.5L400.5 163.5L397.5 163.5M400.5 163.5L401.5 163.5L401.5 167.5L400.5 168.5L395.5 168.5M399.5 165.5L399.5 164.5L400.5 163.5L404.5 163.5L405.5 164.5L405.5 167.5L399.5 173.5L399.5 174.5L405.5 174.5M408.5 78.5L408.5 85.5L414.5 85.5M412.5 80.5L412.5 89.5M399.5 394.5L399.5 393.5L400.5 392.5L404.5 392.5L405.5 393.5L405.5 396.5L399.5 403.5L399.5 404.5L405.5 404.5M614.5 42.5L614.5 41.5L615.5 40.5L619.5 40.5L620.5 41.5L620.5 44.5L614.5 50.5L614.5 51.5L620.5 51.5M616.5 424.5L618.5 422.5L618.5 433.5M616.5 433.5L620.5 433.5" fill="none" stroke="#000" stroke-width="1" stroke-linecap="square" stroke-linejoin="miter" shape-rendering="crispEdges"/>
<path d="M65 7h2v2h-2zM65 14h2v2h-2zM138 5h2v2h-2zM169 5h2v2h-2zM505 15h2v2h-2zM604 15h2v2h-2zM65 26h2v2h-2zM65 34h2v2h-2zM148 25h2v2h-2zM505 34h2v2h-2zM604 34h2v2h-2zM354 15h2v2h-2zM354 34h2v2h-2zM434 52h2v2h-2zM434 59h2v2h-2zM537 61h2v2h-2zM535 79h2v2h-2zM434 94h2v2h-2zM434 101h2v2h-2zM537 102h2v2h-2zM535 120h2v2h-2zM149 471h2v2h-2zM541 472h2v2h-2zM57 500h2v2h-2zM57 507h2v2h-2zM57 519h2v2h-2zM57 526h2v2h-2zM120 527h2v2h-2zM212 527h2v2h-2zM120 545h2v2h-2zM212 545h2v2h-2zM340 500h2v2h-2zM340 507h2v2h-2zM340 519h2v2h-2zM340 526h2v2h-2zM403 527h2v2h-2zM496 527h2v2h-2zM340 537h2v2h-2zM340 544h2v2h-2zM403 545h2v2h-2zM496 545h2v2h-2zM340 554h2v2h-2zM340 562h2v2h-2zM403 562h2v2h-2zM496 562h2v2h-2zM403 580h2v2h-2zM496 580h2v2h-2z" fill="#000"/>
</svg></body></html>
